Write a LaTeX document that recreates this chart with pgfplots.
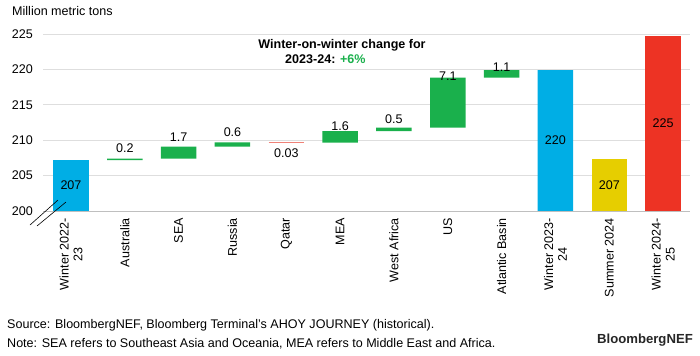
\documentclass[border=0pt]{standalone}
\usepackage{pgfplots}
\pgfplotsset{compat=1.18}
\usepackage{pgfplotstable}
\usepackage{fontspec}
\setmainfont{Liberation Sans}
\definecolor{bblue}{RGB}{0,174,229}
\definecolor{bgreen}{RGB}{26,176,76}
\definecolor{byellow}{RGB}{230,206,0}
\definecolor{bred}{RGB}{237,51,36}
\definecolor{qred}{RGB}{240,130,120}
\newcommand{\tf}{\fontsize{12.6}{14}\selectfont}

% x base blue green yellow red
\pgfplotstableread{
x  base    blue   green  yellow red
0  0       207.2  0      0      0
1  207.2   0      0.2    0      0
2  207.4   0      1.7    0      0
3  209.1   0      0.6    0      0
4  0       0      0      0      0
5  209.67  0      1.6    0      0
6  211.27  0      0.5    0      0
7  211.77  0      7.08   0      0
8  218.85  0      1.05   0      0
9  0       219.9  0      0      0
10 0       0      0      207.3  0
11 0       0      0      0      224.7
}\wf

\begin{document}
\begin{tikzpicture}[x=1bp,y=1bp]
\useasboundingbox (0,0) rectangle (700,355);
\pgfplotsset{
  myframe/.style={
    at={(43bp,144bp)}, anchor=south west, scale only axis,
    width=647bp, height=177bp,
    xmin=-0.52, xmax=11.5, ymin=200, ymax=225,
  }
}
\begin{axis}[myframe,
  ybar stacked, bar width=0.66,
  axis x line*=bottom, axis y line*=left,
  x axis line style={draw=black!25, line width=0.8pt},
  y axis line style={draw=none},
  ymajorgrids, grid style={black!13, line width=0.6pt},
  major tick length=0pt,
  ytick={200,205,...,225},
  xtick={0,...,11},
  xticklabels={{Winter 2022-\\23},Australia,SEA,Russia,Qatar,MEA,West Africa,US,Atlantic Basin,{Winter 2023-\\24},Summer 2024,{Winter 2024-\\25}},
  xticklabel style={rotate=90, anchor=east, align=center, font=\tf, inner sep=0pt, xshift=-7bp},
  yticklabel style={font=\tf, anchor=east, inner sep=0pt, xshift=-10bp},
  /pgf/number format/assume math mode=true,
  clip=true,
]
\addplot[draw=none, fill=none] table[x=x, y=base] {\wf};
\addplot[draw=none, fill=bblue] table[x=x, y=blue] {\wf};
\addplot[draw=none, fill=bgreen] table[x=x, y=green] {\wf};
\addplot[draw=none, fill=byellow] table[x=x, y=yellow] {\wf};
\addplot[draw=none, fill=bred] table[x=x, y=red] {\wf};
\end{axis}
\begin{axis}[myframe, hide axis, clip=false]
\addplot[qred, line width=1.2bp, forget plot] coordinates {(3.67,209.68) (4.33,209.68)};
\begin{scope}[every node/.style={font=\tf, inner sep=0pt}]
\node at (axis cs:0,203.6) {207};
\node at (axis cs:9,209.95) {220};
\node at (axis cs:10,203.65) {207};
\node at (axis cs:11,212.35) {225};
\node at (axis cs:1,208.9) {0.2};
\node at (axis cs:2,210.4) {1.7};
\node at (axis cs:3,211.1) {0.6};
\node at (axis cs:4,208.2) {0.03};
\node at (axis cs:5,212.0) {1.6};
\node at (axis cs:6,212.97) {0.5};
\node at (axis cs:7,219.1) {7.1};
\node at (axis cs:8,220.3) {1.1};
\end{scope}
\end{axis}
% axis break marks
\draw[black, line width=0.6bp] (30,130) -- (58,155);
\draw[black, line width=0.6bp] (37,129) -- (66,153);
% texts
\node[anchor=base west, inner sep=0pt, font=\tf] at (12,340) {Million metric tons};
\node[anchor=base, inner sep=0pt, font=\tf\bfseries] at (342,307) {Winter-on-winter change for};
\node[anchor=base west, inner sep=0pt, font=\tf\bfseries] at (285,292) {2023-24: \textcolor{bgreen}{+6\%}};
\node[anchor=base west, inner sep=0pt, font=\tf] at (7,27) {Source: BloombergNEF, Bloomberg Terminal's AHOY JOURNEY (historical).};
\node[anchor=base west, inner sep=0pt, font=\tf] at (7,8) {Note: SEA refers to Southeast Asia and Oceania, MEA refers to Middle East and Africa.};
\node[anchor=base east, inner sep=0pt, font=\fontsize{13.2}{15}\selectfont\bfseries, text=black!85] at (693,12) {BloombergNEF};
\end{tikzpicture}
\end{document}
